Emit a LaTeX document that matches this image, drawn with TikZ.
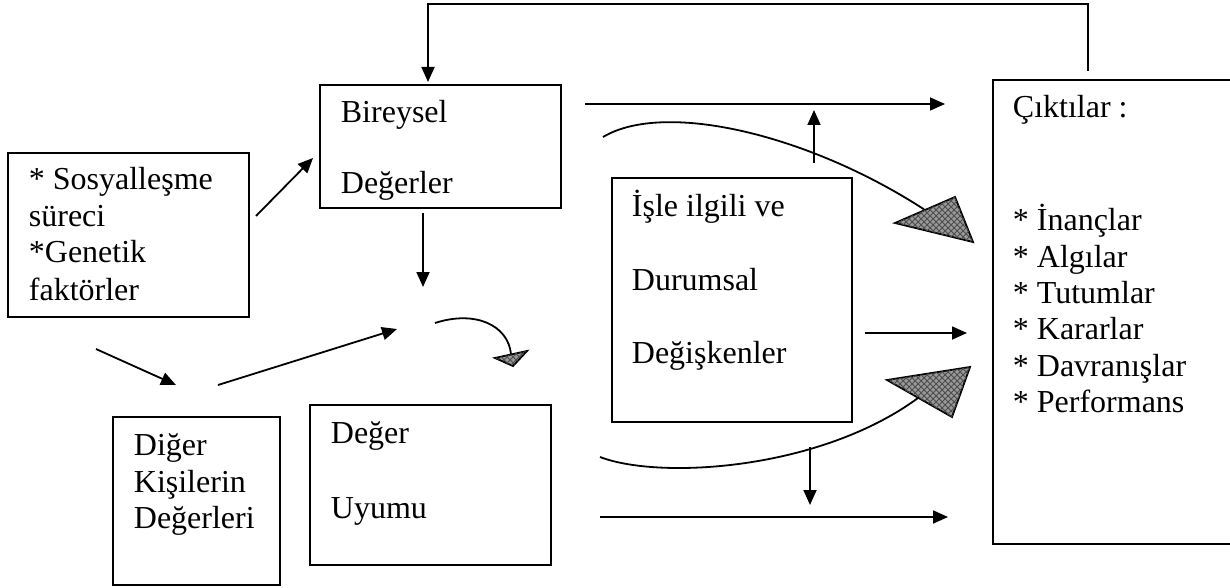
\documentclass[tikz,border=0pt]{standalone}
\usepackage{fontspec}
\setmainfont{Liberation Serif}
\usetikzlibrary{arrows.meta,patterns}

\begin{document}
\begin{tikzpicture}[x=0.5pt,y=-0.5pt,line width=0.9pt,
  box/.style={draw,line width=1pt,anchor=north west,inner sep=0pt},
  lbl/.style={anchor=base west,inner sep=0pt,font=\fontsize{16}{18}\selectfont},
  arr/.style={-{Triangle[length=7.5pt,width=6.5pt]}},
  bighead/.style={draw,line width=0.9pt,fill=gray!80,
    postaction={pattern=crosshatch,pattern color=black!70}}]
\useasboundingbox (0,0) rectangle (1230,588);

% boxes
\node[box,minimum width=120.5pt,minimum height=61.5pt] (bir) at (319,84) {};
\node[box,minimum width=120.5pt,minimum height=82pt] (sos) at (7,152) {};
\node[box,minimum width=83.5pt,minimum height=84pt] (dig) at (112,416) {};
\node[box,minimum width=120.5pt,minimum height=80pt] (uyu) at (309,404) {};
\node[box,minimum width=120pt,minimum height=122pt] (isl) at (611,177) {};
\node[box,minimum width=124pt,minimum height=232pt] (cik) at (992,79) {};

% box texts
\node[lbl] (bir1) at (340,123) {Bireysel};
\node[lbl] (bir2) at (340,194) {Değerler};
\node[lbl] (sos1) at (28,190) {* Sosyalleşme};
\node[lbl] (sos2) at (28,227) {süreci};
\node[lbl] (sos3) at (28,263) {*Genetik};
\node[lbl] (sos4) at (28,300) {faktörler};
\node[lbl] (dig1) at (133,455) {Diğer};
\node[lbl] (dig2) at (133,492) {Kişilerin};
\node[lbl] (dig3) at (133,528) {Değerleri};
\node[lbl] (uyu1) at (330,443) {Değer};
\node[lbl] (uyu2) at (330,518) {Uyumu};
\node[lbl] (isl1) at (631,217) {İşle ilgili ve};
\node[lbl] (isl2) at (631,290) {Durumsal};
\node[lbl] (isl3) at (631,363) {Değişkenler};
\node[lbl] (cik0) at (1012,118) {Çıktılar :};
\node[lbl] (cik1) at (1012,230) {* İnançlar};
\node[lbl] (cik2) at (1012,267) {* Algılar};
\node[lbl] (cik3) at (1012,303) {* Tutumlar};
\node[lbl] (cik4) at (1012,339) {* Kararlar};
\node[lbl] (cik5) at (1012,376) {* Davranışlar};
\node[lbl] (cik6) at (1012,412) {* Performans};

% feedback loop from outputs back to individual values
\coordinate (fbA) at (1088,71);
\coordinate (fbT) at (428,4);
\coordinate (fbB) at (428,82);
\draw[arr] (fbA) |- (fbT) -- (fbB);

% straight arrows
\coordinate (a1s) at (256,216);  \coordinate (a1e) at (313,158);
\coordinate (a2s) at (96,349);   \coordinate (a2e) at (176,385);
\coordinate (a3s) at (218,385);  \coordinate (a3e) at (397,329);
\coordinate (a4s) at (423,213);  \coordinate (a4e) at (423,287);
\coordinate (a5s) at (585,104);  \coordinate (a5e) at (945,104);
\coordinate (a6s) at (814,163);  \coordinate (a6e) at (814,110);
\coordinate (a7s) at (865,333);  \coordinate (a7e) at (967,333);
\coordinate (a8s) at (600,517);  \coordinate (a8e) at (948,517);
\coordinate (a9s) at (810,447);  \coordinate (a9e) at (810,505);
\draw[arr] (a1s) -- (a1e);
\draw[arr] (a2s) -- (a2e);
\draw[arr] (a3s) -- (a3e);
\draw[arr] (a4s) -- (a4e);
\draw[arr] (a5s) -- (a5e);
\draw[arr] (a6s) -- (a6e);
\draw[arr] (a7s) -- (a7e);
\draw[arr] (a8s) -- (a8e);
\draw[arr] (a9s) -- (a9e);

% small curved arrow with shaded head
\coordinate (c1s) at (435,323);
\coordinate (c1e) at (511,354);
\draw (c1s) .. controls (475,310) and (508,325) .. (c1e);
\coordinate (h1a) at (495,358);
\coordinate (h1b) at (527,351);
\coordinate (h1t) at (513,366);
\path[bighead] (h1a) -- (h1b) -- (h1t) -- cycle;

% upper curved arrow
\coordinate (c2s) at (603,137);
\coordinate (c2e) at (925,210);
\draw (c2s) .. controls (665,100) and (810,135) .. (c2e);
\coordinate (h2a) at (895,223);
\coordinate (h2b) at (955,197);
\coordinate (h2t) at (973,242);
\path[bighead] (h2a) -- (h2b) -- (h2t) -- cycle;

% lower curved arrow
\coordinate (c3s) at (600,457);
\coordinate (c3e) at (918,398);
\draw (c3s) .. controls (660,480) and (820,470) .. (c3e);
\coordinate (h3a) at (887,380);
\coordinate (h3b) at (952,417);
\coordinate (h3t) at (970,367);
\path[bighead] (h3a) -- (h3b) -- (h3t) -- cycle;
\end{tikzpicture}
\end{document}
